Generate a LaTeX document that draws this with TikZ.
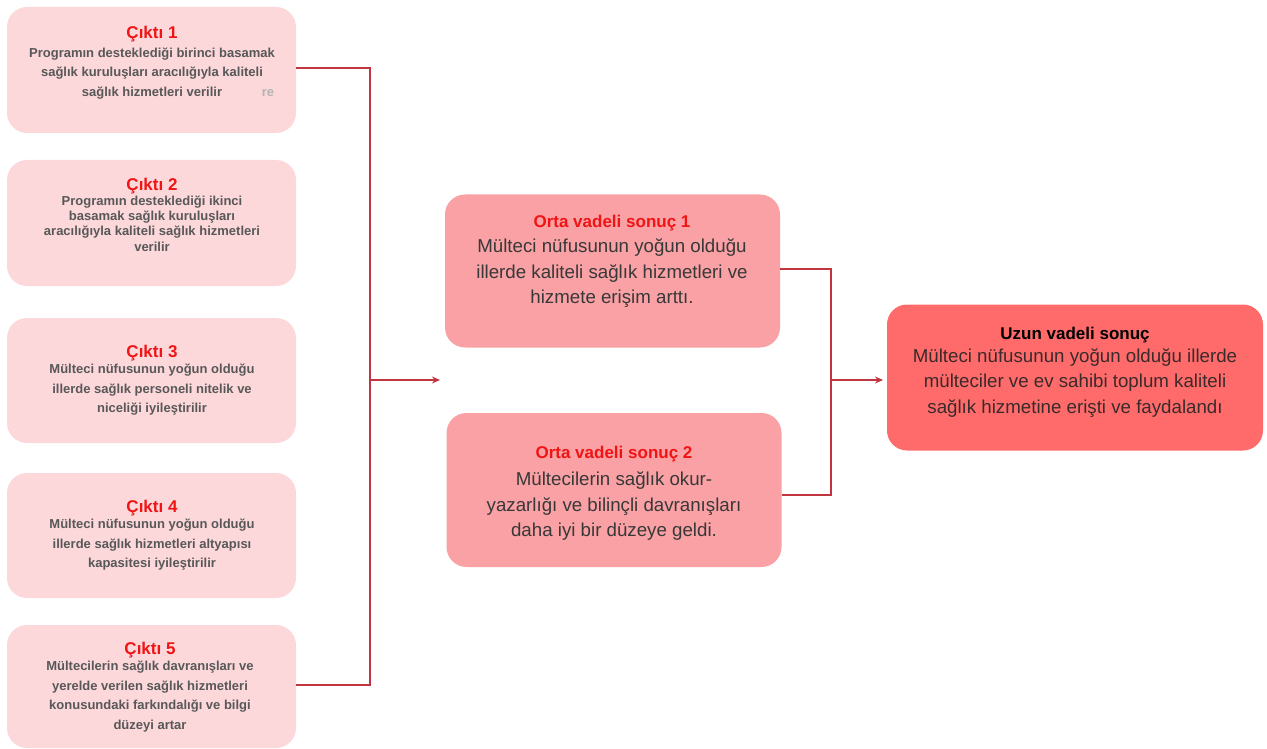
\documentclass[tikz,border=0pt]{standalone}
\usepackage{fontspec}
\setmainfont{Liberation Sans}
\usetikzlibrary{arrows.meta}
\definecolor{lpink}{HTML}{FCD8DB}
\definecolor{mpink}{HTML}{F9A1A4}
\definecolor{rred}{HTML}{FF6B6B}
\definecolor{conn}{HTML}{C0353F}
\definecolor{ttl}{HTML}{F01414}
\definecolor{lgray}{HTML}{585858}
\definecolor{mgray}{HTML}{383838}
\definecolor{rdark}{HTML}{3A2A2A}
\tikzset{
  lbox/.style={fill=lpink, rounded corners=20pt, minimum width=289pt, inner sep=0pt},
  mbox/.style={fill=mpink, rounded corners=20pt, minimum width=335pt, minimum height=153pt, inner sep=0pt},
  rbox/.style={fill=rred, rounded corners=20pt, minimum width=376pt, minimum height=146pt, inner sep=0pt},
  ltitle/.style={text=ttl, font=\fontsize{17}{19}\selectfont\bfseries, inner sep=0pt},
  ltext/.style={text=lgray, font=\fontsize{13}{19.5}\selectfont\bfseries, align=center, inner sep=0pt, anchor=north},
  mtitle/.style={text=ttl, font=\fontsize{17}{19}\selectfont\bfseries, inner sep=0pt},
  mtext/.style={text=mgray, font=\fontsize{18.7}{25.5}\selectfont, align=center, inner sep=0pt, anchor=north},
  conline/.style={draw=conn, line width=1.5pt},
  arr/.style={conline, -{Stealth[length=8pt,width=7pt]}}
}
\begin{document}
\begin{tikzpicture}[x=1pt,y=-1pt]
\useasboundingbox (0,0) rectangle (1267,749);
% left boxes
\node[lbox, minimum height=126pt] (c1) at (151.5,70) {};
\node[lbox, minimum height=126pt] (c2) at (151.5,223) {};
\node[lbox, minimum height=125pt] (c3) at (151.5,380.5) {};
\node[lbox, minimum height=125pt] (c4) at (151.5,535.5) {};
\node[lbox, minimum height=123pt] (c5) at (151.5,686.5) {};
% left texts
\node[ltitle] (t1) at (152,34) {Çıktı 1};
\node[ltext] (b1) at (152,47.5) {Programın desteklediği birinci basamak\\sağlık kuruluşları aracılığıyla kaliteli\\sağlık hizmetleri verilir};
\node[text=lgray!45, font=\fontsize{13}{15}\selectfont\bfseries, inner sep=0pt] (b1x) at (268,93) {re};
\node[ltitle] (t2) at (152,186) {Çıktı 2};
\node[ltext, font=\fontsize{13}{15.3}\selectfont\bfseries] (b2) at (152,195.5) {Programın desteklediği ikinci\\basamak sağlık kuruluşları\\aracılığıyla kaliteli sağlık hizmetleri\\verilir};
\node[ltitle] (t3) at (152,353) {Çıktı 3};
\node[ltext] (b3) at (152,364) {Mülteci nüfusunun yoğun olduğu\\illerde sağlık personeli nitelik ve\\niceliği iyileştirilir};
\node[ltitle] (t4) at (152,508) {Çıktı 4};
\node[ltext] (b4) at (152,519) {Mülteci nüfusunun yoğun olduğu\\illerde sağlık hizmetleri altyapısı\\kapasitesi iyileştirilir};
\node[ltitle] (t5) at (150,650) {Çıktı 5};
\node[ltext] (b5) at (150,661) {Mültecilerin sağlık davranışları ve\\yerelde verilen sağlık hizmetleri\\konusundaki farkındalığı ve bilgi\\düzeyi artar};
% middle boxes
\node[mbox] (m1) at (612.5,271) {};
\node[mbox, minimum height=154pt] (m2) at (614,490) {};
\node[mtitle] (mt1) at (612,223) {Orta vadeli sonuç 1};
\node[mtext] (mb1) at (612,239) {Mülteci nüfusunun yoğun olduğu\\illerde kaliteli sağlık hizmetleri ve\\hizmete erişim arttı.};
\node[mtitle] (mt2) at (614,454) {Orta vadeli sonuç 2};
\node[mtext] (mb2) at (614,472) {Mültecilerin sağlık okur-\\yazarlığı ve bilinçli davranışları\\daha iyi bir düzeye geldi.};
% right box
\node[rbox] (r) at (1075,377.5) {};
\node[mtitle, text=black] (rt) at (1075,335) {Uzun vadeli sonuç};
\node[mtext, text=rdark] (rb) at (1075,348.5) {Mülteci nüfusunun yoğun olduğu illerde\\mülteciler ve ev sahibi toplum kaliteli\\sağlık hizmetine erişti ve faydalandı};
% connectors
\coordinate (bx) at (370,380);
\coordinate (a1) at (440,380);
\draw[conline] (c1.east |- 0,68) -- (370,68) -- (370,685) -- (c5.east |- 0,685);
\draw[arr] (bx) -- (a1);
\coordinate (bx2) at (831,380);
\coordinate (a2) at (883,380);
\draw[conline] (m1.east |- 0,269) -- (831,269) -- (831,495) -- (m2.east |- 0,495);
\draw[arr] (bx2) -- (a2);
\end{tikzpicture}
\end{document}
